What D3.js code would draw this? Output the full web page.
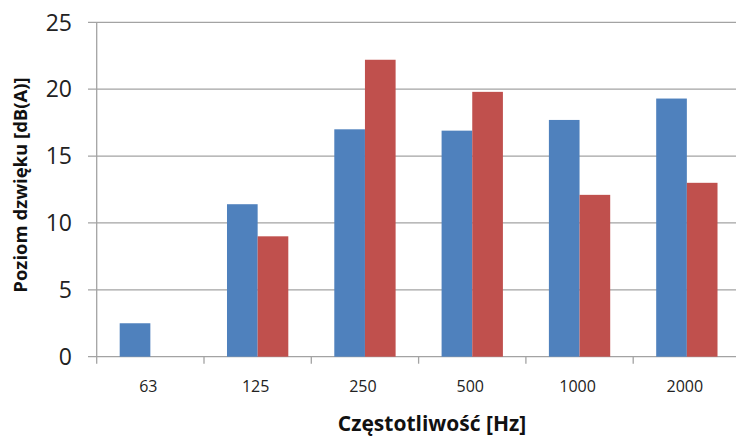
<!DOCTYPE html>
<html><head><meta charset="utf-8">
<script src="https://cdn.jsdelivr.net/npm/d3@7"></script>
<style>body{margin:0;background:#fff}svg{display:block}</style>
</head><body>
<svg id="c" width="736" height="438"></svg>
<script>
const categories = ["63", "125", "250", "500", "1000", "2000"];
const seriesBlue = [2.5, 11.4, 17.0, 16.9, 17.7, 19.3];
const seriesRed = [0, 9.0, 22.2, 19.8, 12.1, 13.0];
const yTicks = [0, 5, 10, 15, 20, 25];
const xTitle = "Częstotliwość [Hz]";
const yTitle = "Poziom  dzwięku [dB(A)]";

const svg = d3.select("#c");
const mLeft = 96.7, mRight = 740.5, mTop = 22.3, mBottom = 356.7;
const x = d3.scaleBand().domain(categories).range([mLeft, mRight]);
const inner = d3.scaleBand().domain(["b", "r"]).range([0, x.bandwidth()]).paddingInner(0).paddingOuter(0.75);
const y = d3.scaleLinear().domain([0, 25]).range([mBottom, mTop]);
const grid = "#a3a3a3";
const font = "'Open Sans', 'Noto Sans', sans-serif";

// gridlines
svg.append("g").selectAll("line").data(yTicks).join("line")
  .attr("x1", 88).attr("x2", 736)
  .attr("y1", d => y(d)).attr("y2", d => y(d))
  .attr("stroke", grid).attr("stroke-width", 1.3);

// y axis line
svg.append("line").attr("x1", mLeft).attr("x2", mLeft).attr("y1", mTop).attr("y2", mBottom + 7)
  .attr("stroke", grid).attr("stroke-width", 1.3);

// x ticks at boundaries
svg.append("g").selectAll("line").data(categories.slice(1)).join("line")
  .attr("x1", d => x(d)).attr("x2", d => x(d))
  .attr("y1", mBottom).attr("y2", mBottom + 7)
  .attr("stroke", grid).attr("stroke-width", 1.3);

// bars
const data = categories.map((c, i) => ({c, b: seriesBlue[i], r: seriesRed[i]}));
const colors = {b: "#4f81bd", r: "#c0504d"};
const g = svg.append("g");
["b", "r"].forEach(k => {
  g.selectAll("rect." + k).data(data.filter(d => d[k] > 0)).join("rect")
    .attr("class", k)
    .attr("x", d => x(d.c) + inner(k))
    .attr("width", inner.bandwidth())
    .attr("y", d => y(d[k]))
    .attr("height", d => y(0) - y(d[k]))
    .attr("fill", colors[k]);
});

// y tick labels
svg.append("g").selectAll("text").data(yTicks).join("text")
  .attr("x", 72).attr("y", d => y(d)).attr("dy", "0.36em")
  .attr("text-anchor", "end")
  .attr("font-family", font).attr("font-size", 23).attr("fill", "#222")
  .text(d => d);

// x tick labels
svg.append("g").selectAll("text").data(categories).join("text")
  .attr("x", d => x(d) + x.bandwidth() / 2 - 2).attr("y", 392)
  .attr("text-anchor", "middle")
  .attr("font-family", font).attr("font-size", 16).attr("fill", "#222")
  .text(d => d);

// axis titles
svg.append("text").attr("x", 432).attr("y", 431).attr("text-anchor", "middle")
  .attr("font-family", font).attr("font-weight", "bold").attr("font-size", 21).attr("fill", "#111")
  .text(xTitle);
svg.append("text").attr("transform", "translate(27,185) rotate(-90)").attr("text-anchor", "middle")
  .attr("font-family", font).attr("font-weight", "bold").attr("font-size", 18.5).attr("fill", "#111")
  .text(yTitle);
</script>
</body></html>
